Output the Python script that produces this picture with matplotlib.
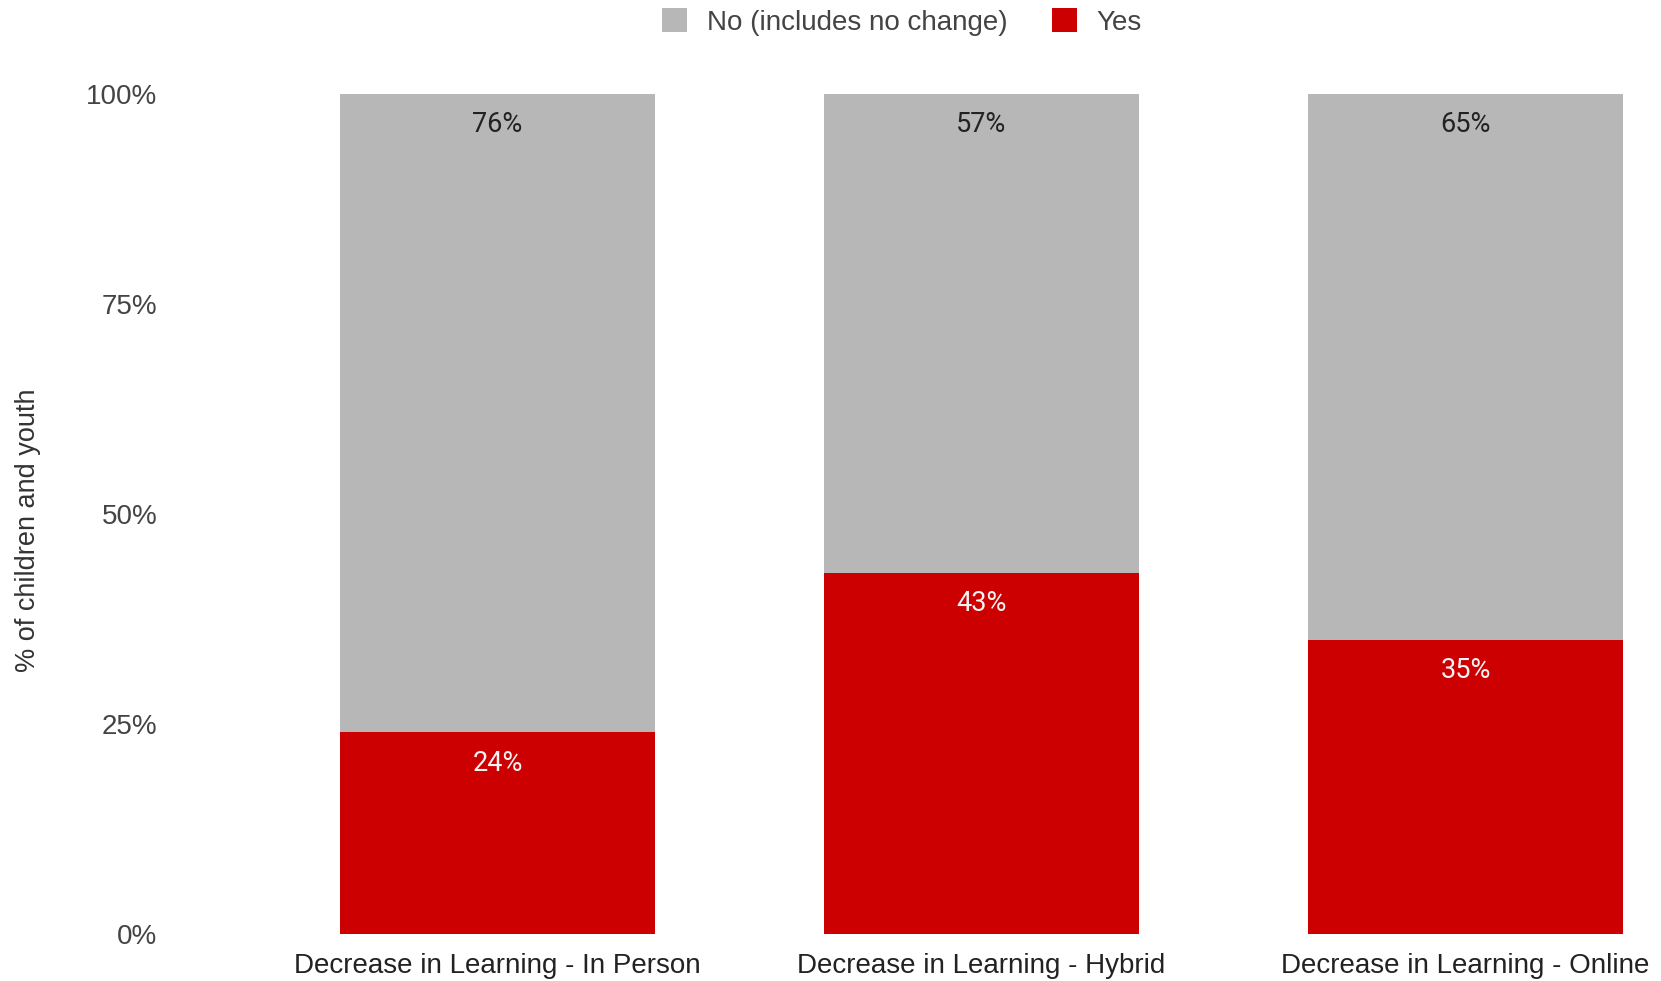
import matplotlib
matplotlib.use("Agg")
import matplotlib.pyplot as plt
import numpy as np

categories = ["Decrease in Learning - In Person",
              "Decrease in Learning - Hybrid",
              "Decrease in Learning - Online"]
yes_pct = [24, 43, 35]
no_pct = [76, 57, 65]
series_names = ["No (includes no change)", "Yes"]
y_ticks = [0, 25, 50, 75, 100]

GRAY = "#b7b7b7"
RED = "#cc0000"

plt.rcParams["font.family"] = ["Liberation Sans", "DejaVu Sans"]

fig = plt.figure(figsize=(16.61, 9.81), dpi=100)
# plot area in figure pixels: x 170..1640, y 94..934
ax = fig.add_axes([170 / 1661, 1 - 934 / 981, 1470 / 1661, 840 / 981])

x = np.arange(len(categories))
width = 0.649

b_yes = ax.bar(x, yes_pct, width, color=RED, label=series_names[1], zorder=2)
b_no = ax.bar(x, no_pct, width, bottom=yes_pct, color=GRAY,
              label=series_names[0], zorder=2)

# value labels just below the top edge of each segment
for i in range(len(categories)):
    ax.annotate(f"{no_pct[i]}%", (x[i], yes_pct[i] + no_pct[i]),
                xytext=(0, -31), textcoords="offset pixels",
                ha="center", va="center", fontsize=19.5,
                family=["Roboto", "DejaVu Sans"], color="#222222")
    ax.annotate(f"{yes_pct[i]}%", (x[i], yes_pct[i]),
                xytext=(0, -31), textcoords="offset pixels",
                ha="center", va="center", fontsize=19.5,
                family=["Roboto", "DejaVu Sans"], color="#f4f4f4")

ax.set_xlim((170 - 497.5) / 484, (1640 - 497.5) / 484)
ax.set_ylim(0, 100)
ax.set_yticks(y_ticks)
ax.set_yticklabels([f"{t}%" for t in y_ticks])
ax.set_xticks(x)
ax.set_xticklabels(categories)
ax.tick_params(axis="both", length=0, labelsize=20, colors="#444444")
ax.tick_params(axis="y", pad=9)
ax.tick_params(axis="x", pad=13.5)
for lbl in ax.get_xticklabels():
    lbl.set_color("#222222")

for s in ax.spines.values():
    s.set_visible(False)

fig.text(28 / 1661, 1 - 530 / 981, "% of children and youth", rotation=90,
         ha="center", va="center", fontsize=19.5, color="#333333")

handles = [b_no, b_yes]
fig.legend(handles, series_names, loc="center", bbox_to_anchor=(902 / 1661, 1 - 22 / 981),
           ncol=2, frameon=False, fontsize=20, handlelength=0.9, handleheight=0.9,
           handletextpad=0.7, columnspacing=1.6, labelcolor="#444444")

fig.savefig("out.png", dpi=100)
